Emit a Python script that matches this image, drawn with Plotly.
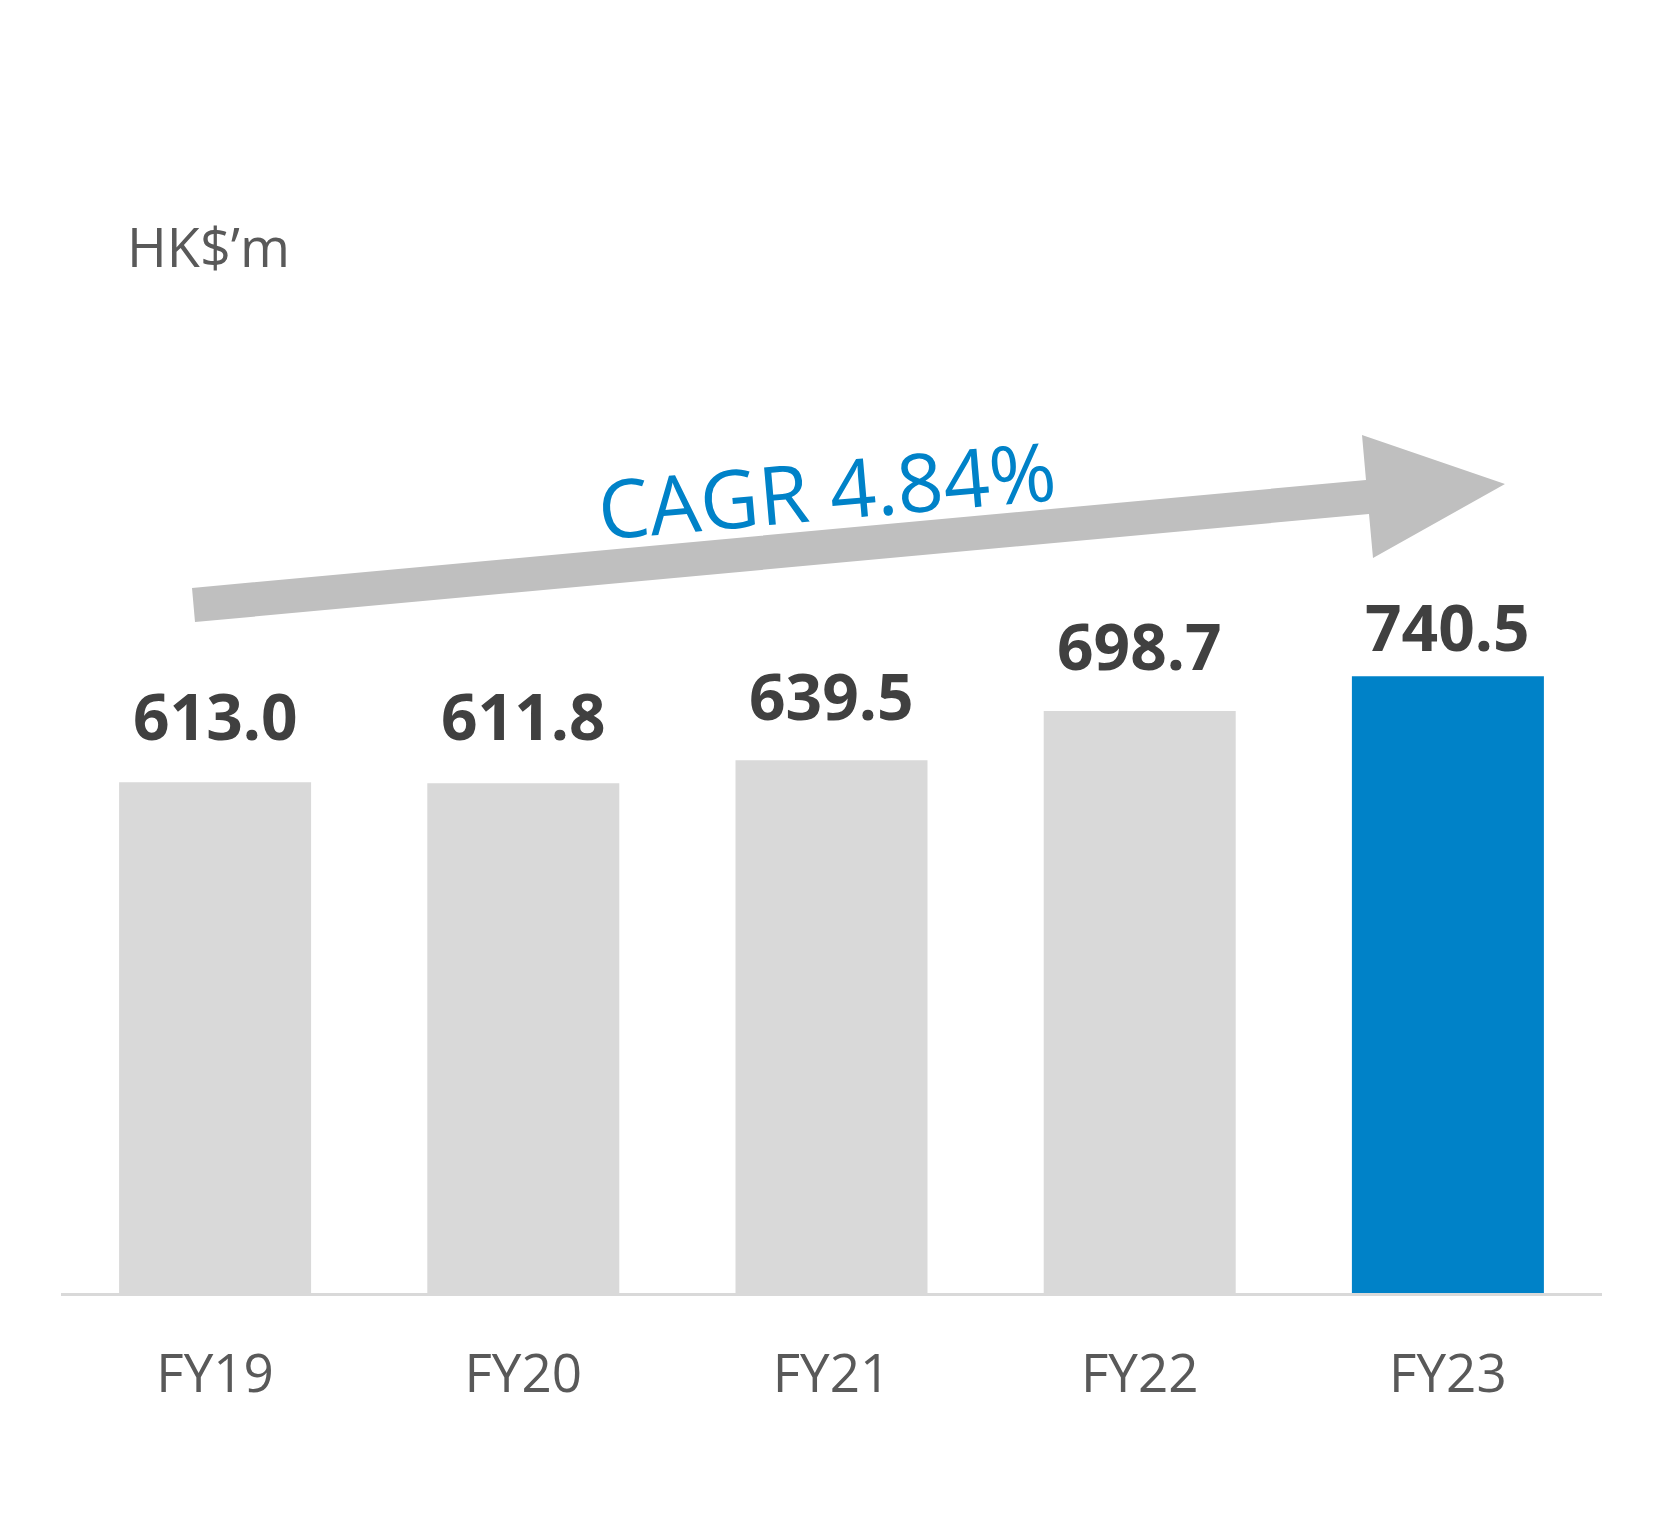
import plotly.graph_objects as go

# ---- data ----
categories = ["FY19", "FY20", "FY21", "FY22", "FY23"]
values = [613.0, 611.8, 639.5, 698.7, 740.5]
value_labels = ["613.0", "611.8", "639.5", "698.7", "740.5"]
unit_label = "HK$\u2019m"
cagr_label = "CAGR 4.84%"

# ---- style ----
grey_bar = "#d9d9d9"
blue_bar = "#0082c8"
bar_colors = [grey_bar, grey_bar, grey_bar, grey_bar, blue_bar]
label_gap_px = [40, 41, 38, 39, 23]   # gap between bar top and label baseline

OFF = 8                    # browser default body margin
W, H = 1653 - 2 * OFF, 1522 - 2 * OFF
# plot area in page pixels (reference coordinates)
L_ref, R_ref = 61, 1602
T_ref, B_ref = 100, 1293
L, R = L_ref - OFF, R_ref - OFF
T, B = T_ref - OFF, B_ref - OFF
px_per_unit = 0.833
y_max = (B - T) / px_per_unit


def px(xp):
    return (xp - OFF - L) / (R - L)


def py(yp):
    return (B - (yp - OFF)) / (B - T)


fig = go.Figure()
fig.add_trace(go.Bar(
    x=categories, y=values,
    marker=dict(color=bar_colors, line=dict(width=0)),
    hoverinfo="skip",
))

FONT = "Open Sans"
LBL = 64
DESC = 17  # approx distance from text box bottom to baseline

annotations = []
for c, v, t, g in zip(categories, values, value_labels, label_gap_px):
    annotations.append(dict(
        x=c, y=v, xref="x", yref="y", text=t, showarrow=False,
        xanchor="center", yanchor="bottom", yshift=g - DESC - 2,
        font=dict(family=FONT, size=LBL, color="#404040", weight=700),
    ))

annotations.append(dict(
    x=px(125), y=py(271), xref="paper", yref="paper", text=unit_label,
    showarrow=False, xanchor="left", yanchor="bottom", yshift=-14,
    font=dict(family=FONT, size=54, color="#595959"),
))

annotations.append(dict(
    x=px(826), y=py(488), xref="paper", yref="paper", text=cagr_label,
    showarrow=False, xanchor="center", yanchor="middle", textangle=-5,
    font=dict(family=FONT, size=81, color="#0082c8"),
))

# arrow decoration (reference pixel polygon -> paper coords)
arrow_px = [(192, 588), (195, 622), (1369, 514), (1373, 558),
            (1505, 484), (1362, 435), (1366, 480)]
path = "M " + " L ".join(f"{px(a):.5f},{py(b):.5f}" for a, b in arrow_px) + " Z"

fig.update_layout(
    width=W, height=H,
    margin=dict(l=L, r=W - R, t=T, b=H - B, pad=0),
    paper_bgcolor="white", plot_bgcolor="white",
    showlegend=False,
    bargap=0.377,
    annotations=annotations,
    shapes=[dict(type="path", path=path, xref="paper", yref="paper",
                 fillcolor="#bfbfbf", line=dict(width=0), layer="above")],
    xaxis=dict(
        showline=True, linecolor="#d9d9d9", linewidth=3,
        showgrid=False, zeroline=False, ticks="",
        tickfont=dict(family=FONT, size=53, color="#595959"),
        ticklabelstandoff=32,
    ),
    yaxis=dict(
        range=[0, y_max], visible=False, showgrid=False, zeroline=False,
    ),
)

fig.write_html("out.html")
